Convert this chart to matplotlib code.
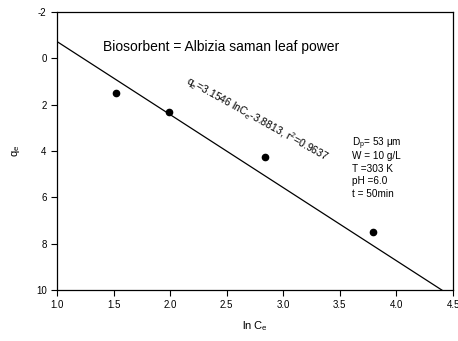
import numpy as np
import matplotlib
matplotlib.use("Agg")
import matplotlib.pyplot as plt

plt.rcParams["font.family"] = ["Liberation Sans", "DejaVu Sans"]
plt.rcParams["mathtext.fontset"] = "custom"
plt.rcParams["mathtext.rm"] = "Liberation Sans"
plt.rcParams["mathtext.it"] = "Liberation Sans:italic"
plt.rcParams["axes.unicode_minus"] = False

# experimental points
ln_ce = [1.52, 1.99, 2.84, 3.79]
qe = [1.50, 2.30, 4.26, 7.50]

# fitted isotherm
slope = 3.1546
intercept = -3.8813

x_ticks = [1.0, 1.5, 2.0, 2.5, 3.0, 3.5, 4.0, 4.5]
y_ticks = [-2, 0, 2, 4, 6, 8, 10]

conditions = [r"D$_\mathrm{p}$= 53 $\mathrm{\mu}$m", "W = 10 g/L", "T =303 K", "pH =6.0", "t = 50min"]

fig = plt.figure(figsize=(4.58, 3.41), dpi=100)
ax = fig.add_axes([0.1245, 0.1496, 0.8646, 0.815])

xfit = np.linspace(1.0, 4.5, 50)
ax.plot(xfit, slope * xfit + intercept, color="black", lw=0.9)
ax.plot(ln_ce, qe, "o", color="black", ms=4.5)

ax.set_xlim(1.0, 4.5)
ax.set_ylim(10, -2)
ax.set_xticks(x_ticks)
ax.set_xticklabels([f"{v:.1f}" for v in x_ticks])
ax.set_yticks(y_ticks)
ax.tick_params(direction="out", length=4, width=0.8, labelsize=7, top=False, right=False)
for s in ax.spines.values():
    s.set_linewidth(0.9)

ax.set_xlabel(r"ln C$_\mathrm{e}$", fontsize=8, labelpad=6)
ax.set_ylabel(r"q$_\mathrm{e}$", fontsize=8, labelpad=10)

ax.text(1.41, -0.49, "Biosorbent = Albizia saman leaf power", fontsize=10, va="center", ha="left")
ax.text(2.77, 2.62, r"q$_\mathrm{e}$=3.1546 lnC$_\mathrm{e}$-3.8813, r$^\mathrm{2}$=0.9637",
        fontsize=7.6, rotation=-29, ha="center", va="center", rotation_mode="anchor")
for i, line in enumerate(conditions):
    ax.annotate(line, xy=(3.61, 3.68), xytext=(0, -9 * i), textcoords="offset points",
                fontsize=7.2, ha="left", va="center")

fig.savefig("out.png", dpi=100)
